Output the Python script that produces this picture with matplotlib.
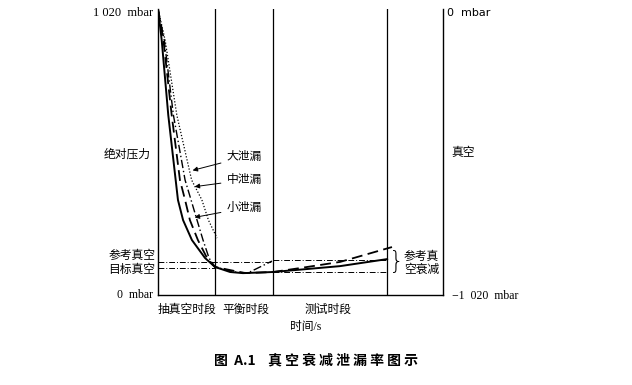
import matplotlib.pyplot as plt

plt.rcParams['font.family'] = ['Liberation Serif', 'Noto Sans CJK SC']

# time axis 0..100 s (arbitrary), pressure 0..1020 mbar
phase_ends = [20, 40.4, 80.4]
t_max = 100
p_max = 1020

# solid
t_solid = [0, 1.3, 3.6, 6.2, 7.0, 8.8, 11.9, 16.5, 20, 25.3, 29.8, 40.4, 63.9, 80.4]
p_solid = [1020, 909, 642, 410, 339, 267, 196, 132, 100, 82, 78, 82, 103, 128]
# dashed
t_dash = [0, 1.9, 4.8, 7.7, 9.5, 11.2, 14.0, 17.2, 20, 30.5, 40.4, 49.8, 63.9, 82.1]
p_dash = [1020, 909, 642, 410, 339, 267, 196, 132, 100, 78, 82, 96, 118, 171]
# dash-dot
t_dd = [0, 2.2, 5.4, 9.5, 11.6, 13.7, 15.8, 17.9, 20, 27, 31.6, 40]
p_dd = [1020, 909, 642, 410, 339, 267, 196, 132, 100, 82, 79, 121]
# dotted
t_dot = [0, 2.5, 6.6, 11.8, 15.4, 17.7, 20.7]
p_dot = [1020, 909, 642, 410, 339, 267, 203]

# reference levels
ref_level = 116
target_level = 97
test_upper = 125
test_lower = 82

fig = plt.figure(figsize=(6.32, 3.85), dpi=100)
ax = fig.add_axes([158/632, 90/385, 285/632, 286/385])
ax.set_xlim(0, t_max)
ax.set_ylim(0, p_max)
ax.set_xticks([])
ax.set_yticks([])
ax.spines['top'].set_visible(False)
for s in ['left', 'bottom', 'right']:
    ax.spines[s].set_linewidth(1.0)

for x in phase_ends:
    ax.axvline(x, color='black', lw=0.9)

ax.plot([0, 40.4], [ref_level, ref_level], color='black', lw=0.7, dashes=(6, 2, 1, 2))
ax.plot([0, 20], [target_level, target_level], color='black', lw=0.7, dashes=(6, 2, 1, 2))
ax.plot([40.4, 80.4], [test_upper, test_upper], color='black', lw=0.7, dashes=(6, 2, 1, 2))
ax.plot([40.4, 80.4], [test_lower, test_lower], color='black', lw=0.7, dashes=(6, 2, 1, 2))

ax.plot(t_solid, p_solid, color='black', lw=1.4)
ax.plot(t_dash, p_dash, color='black', lw=1.3, dashes=(6, 3))
ax.plot(t_dd, p_dd, color='black', lw=1.0, dashes=(6, 2, 1, 2))
ax.plot(t_dot, p_dot, color='black', lw=0.9, dashes=(1, 1.5))

fs = 8.5
arrow = dict(arrowstyle='-|>', color='black', lw=0.7, mutation_scale=7)
ax.annotate('大泄漏', xy=(11.2, 442), xytext=(24, 492), fontsize=fs,
            va='center', ha='left', arrowprops=arrow)
ax.annotate('中泄漏', xy=(11.9, 385), xytext=(24, 410), fontsize=fs,
            va='center', ha='left', arrowprops=arrow)
ax.annotate('小泄漏', xy=(11.9, 275), xytext=(24, 310), fontsize=fs,
            va='center', ha='left', arrowprops=arrow)

kw = dict(fontsize=fs, clip_on=False)
ax.text(-1.8, 1006, '1 020  mbar', ha='right', va='center', fontsize=9, clip_on=False)
ax.text(-2.5, 499, '绝对压力', ha='right', va='center', **kw)
ax.text(-1.0, 139, '参考真空', ha='right', va='center', **kw)
ax.text(-1.0, 89, '目标真空', ha='right', va='center', **kw)
ax.text(-1.8, 0, '0  mbar', ha='right', va='center', **kw)

ax.text(101.3, 1006, '0  mbar', ha='left', va='center', fontsize=8,
        family=['DejaVu Sans'], clip_on=False)
ax.text(103, 506, '真空', ha='left', va='center', **kw)
ax.text(103, -4, '\u22121  020  mbar', ha='left', va='center', **kw)

ax.text(83.6, 118, '}', ha='center', va='center', fontsize=17, clip_on=False,
        family=['DejaVu Sans'], fontweight='light')
ax.text(86.3, 114, '参考真\n空衰减', ha='left', va='center', linespacing=1.1, **kw)

ax.text(10.2, -53, '抽真空时段', ha='center', va='center', **kw)
ax.text(31, -53, '平衡时段', ha='center', va='center', **kw)
ax.text(59.8, -53, '测试时段', ha='center', va='center', **kw)
ax.text(51.9, -114, '时间/s', ha='center', va='center', **kw)

fig.text(316/632, 1 - 360/385, '图  A.1    真 空 衰 减 泄 漏 率 图 示', ha='center', va='center',
         fontsize=10, fontweight='bold', family=['Noto Sans CJK SC'])

fig.savefig('out.png', dpi=100)
